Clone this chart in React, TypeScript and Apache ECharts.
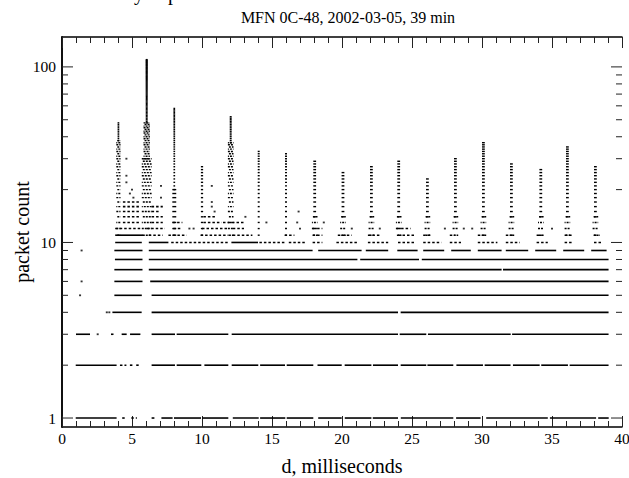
import React, { useEffect, useRef } from "react";
import * as echarts from "echarts";

const TITLE = "MFN 0C-48, 2002-03-05, 39 min";
const X_NAME = "d, milliseconds";
const Y_NAME = "packet count";
const X_MIN = 0;
const X_MAX = 40;
const X_STEP = 5;
const Y_MIN = 0.889;
const Y_MAX = 148;
const yTickValues = [1, 2, 3, 4, 5, 6, 7, 8, 9, 10, 20, 30, 40, 50, 60, 70, 80, 90, 100];

// dense horizontal runs of points: [count, from ms, to ms]
const denseRuns = [
  [1, 0.98, 3.9], [1, 6.4, 6.6], [1, 7.1, 7.9], [1, 8.0, 9.93], [1, 10.02, 11.88], [1, 12.2, 14.05],
  [1, 14.15, 15.95], [1, 16.05, 17.95], [1, 18.3, 19.98], [1, 20.2, 22.1], [1, 22.2, 24.0],
  [1, 24.2, 27.95], [1, 28.15, 29.9], [1, 30.3, 34.7], [1, 34.85, 38.15], [1, 38.3, 39.05],
  [2, 0.98, 3.9], [2, 6.4, 8.07], [2, 8.19, 9.95], [2, 10.17, 11.88], [2, 12.12, 14.02],
  [2, 14.15, 15.93], [2, 16.05, 17.95], [2, 18.25, 19.98], [2, 20.19, 22.1], [2, 22.21, 24.0],
  [2, 24.19, 26.02], [2, 26.1, 27.95], [2, 28.17, 30.07], [2, 30.19, 32.04], [2, 32.21, 34.12],
  [2, 34.23, 36.14], [2, 36.26, 39.04],
  [3, 1.0, 2.0], [3, 4.26, 4.62], [3, 4.86, 5.6], [3, 6.4, 8.07], [3, 8.19, 11.88], [3, 12.12, 24.0],
  [3, 24.12, 26.02], [3, 26.14, 32.05], [3, 32.15, 39.04],
  [4, 3.6, 5.69], [4, 6.4, 24.0], [4, 24.19, 39.04],
  [5, 3.74, 5.7], [5, 6.4, 39.04],
  [6, 3.74, 5.75], [6, 6.3, 39.04],
  [7, 3.74, 5.75], [7, 6.2, 31.4], [7, 31.5, 39.04],
  [8, 3.78, 5.75], [8, 6.2, 21.1], [8, 21.3, 25.5], [8, 25.7, 39.04],
  [9, 3.74, 5.75], [9, 6.2, 17.9], [9, 18.3, 21.4], [9, 21.7, 23.3], [9, 23.95, 25.4], [9, 25.8, 27.3],
  [9, 27.8, 29.2], [9, 29.7, 31.4], [9, 31.7, 33.3], [9, 33.8, 35.3], [9, 35.8, 37.3], [9, 37.8, 38.9],
  [10, 3.8, 5.7], [10, 6.2, 7.6], [10, 12.1, 14.0],
  [11, 3.8, 5.8],
];

// thinly populated runs: [count, from ms, to ms]
const sparseRuns = [
  [1, 4.3, 4.6], [1, 4.95, 5.35],
  [2, 4.14, 4.6], [2, 4.85, 5.1], [2, 5.3, 5.6],
  [3, 3.5, 3.8],
  [10, 7.8, 11.9], [10, 14.1, 15.9], [10, 16.2, 17.4], [10, 17.9, 18.6], [10, 19.6, 21.1],
  [10, 21.85, 23.3], [10, 24.0, 25.2], [10, 25.8, 27.1], [10, 27.7, 28.5], [10, 29.7, 31.1],
  [10, 31.7, 32.7], [10, 33.9, 34.7], [10, 35.9, 36.4], [10, 38.0, 38.6],
  [11, 6.2, 7.2], [11, 7.6, 8.9], [11, 9.9, 11.9], [11, 12.2, 13.6], [11, 15.9, 16.6], [11, 17.9, 18.6],
  [11, 19.7, 20.7], [11, 21.85, 22.8], [11, 24.0, 25.2], [11, 25.8, 26.3], [11, 27.7, 28.1],
  [11, 29.7, 30.3], [11, 31.7, 32.2], [11, 33.9, 34.3], [11, 35.9, 36.4], [11, 38.0, 38.4],
  [12, 3.8, 5.7], [12, 6.05, 7.35], [12, 7.95, 8.45], [12, 10.0, 11.9], [12, 12.2, 13.0],
  [12, 17.9, 18.6], [12, 23.9, 24.9],
  [13, 4.35, 5.6], [13, 6.4, 7.2], [13, 7.9, 8.6], [13, 10.1, 11.4], [13, 11.5, 13.1],
  [14, 4.35, 5.6], [14, 6.4, 7.2], [14, 10.1, 11.0],
  [15, 4.35, 5.6], [15, 6.4, 7.0],
  [16, 4.35, 5.6], [16, 6.4, 7.2],
  [17, 4.35, 5.5],
];

// vertical columns of integer counts: [centre ms, lowest count, highest count, spread ms]
const spikes = [
  [4.03, 11, 38, 0.3], [4.03, 38, 48, 0.12],
  [6.05, 11, 30, 0.7], [6.05, 30, 48, 0.45], [6.05, 48, 110, 0.14],
  [8.02, 11, 20, 0.28], [8.02, 20, 58, 0.12],
  [10.0, 11, 27, 0.16],
  [12.05, 11, 37, 0.4], [12.05, 37, 52, 0.14],
  [14.05, 11, 33, 0.14], [16.0, 11, 32, 0.14],
  [18.05, 11, 14, 0.4], [18.05, 14, 29, 0.2],
  [20.07, 11, 14, 0.4], [20.07, 14, 25, 0.2],
  [22.1, 11, 14, 0.4], [22.1, 14, 27, 0.2],
  [24.05, 11, 14, 0.4], [24.05, 14, 29, 0.2],
  [26.1, 11, 14, 0.4], [26.1, 14, 23, 0.2],
  [28.1, 11, 14, 0.4], [28.1, 14, 30, 0.2],
  [30.1, 11, 14, 0.4], [30.1, 14, 37, 0.2],
  [32.1, 11, 14, 0.4], [32.1, 14, 28, 0.2],
  [34.2, 11, 14, 0.4], [34.2, 14, 26, 0.2],
  [36.1, 11, 14, 0.4], [36.1, 14, 35, 0.2],
  [38.1, 11, 14, 0.4], [38.1, 14, 27, 0.2],
];

// isolated points: [ms, count]
const strays = [
  [1.29, 5], [1.4, 6], [1.4, 9], [2.55, 3], [3.2, 4], [3.38, 4],
  [4.6, 30], [4.6, 24], [4.6, 22], [5.0, 20], [5.1, 18], [4.85, 19],
  [7.07, 21], [7.07, 18], [9.1, 12], [9.4, 12], [10.7, 21], [10.7, 17], [10.7, 16], [10.9, 15],
  [13.1, 14], [14.6, 13], [16.9, 15], [16.8, 13], [17.0, 12], [18.7, 13], [20.7, 12],
  [22.7, 12], [27.35, 12], [28.7, 12], [29.3, 12], [35.0, 12],
];

const FONT = '"Liberation Serif", "Times New Roman", serif';

export default function App() {
  const ref = useRef<HTMLDivElement>(null);
  useEffect(() => {
    if (!ref.current) return;
    const chart = echarts.init(ref.current, null, { renderer: "svg" });
    const isMajor = (v: number) => {
      const l = Math.log10(v);
      return Math.abs(l - Math.round(l)) < 1e-6;
    };
    const xAxisBase = {
      type: "value",
      min: X_MIN,
      max: X_MAX,
      interval: X_STEP,
      axisLine: { lineStyle: { color: "#000", width: 1.5 } },
      axisTick: { inside: true, length: 11, lineStyle: { color: "#222", width: 1 } },
      minorTick: { show: true, splitNumber: 5, length: 6, lineStyle: { color: "#222", width: 1 } },
      splitLine: { show: false },
      minorSplitLine: { show: false },
    };
    const yAxisBase = {
      type: "log",
      logBase: 10,
      min: Y_MIN,
      max: Y_MAX,
      axisLine: { show: true, lineStyle: { color: "#000", width: 1.5 } },
      axisTick: { show: false },
      splitLine: { show: false },
    };
    chart.setOption({
      animation: false,
      backgroundColor: "#fff",
      textStyle: { fontFamily: FONT },
      title: {
        text: TITLE,
        left: 343,
        top: 4,
        textAlign: "center",
        textStyle: { fontFamily: FONT, fontSize: 16, fontWeight: "normal", color: "#000" },
      },
      graphic: [
        { type: "text", x: 134, y: -7, style: { text: "y", font: `20px ${FONT}`, fill: "#000", verticalAlign: "middle" } },
        { type: "text", x: 168, y: -7, style: { text: "p", font: `20px ${FONT}`, fill: "#000", verticalAlign: "middle" } },
      ],
      grid: { left: 62, right: 7, top: 37, bottom: 51, containLabel: false, outerBoundsMode: "none" },
      xAxis: [
        {
          ...xAxisBase,
          position: "bottom",
          name: X_NAME,
          nameLocation: "middle",
          nameGap: 29,
          nameMoveOverlap: false,
          nameTextStyle: { fontFamily: FONT, fontSize: 20, color: "#000" },
          axisLabel: { fontFamily: FONT, fontSize: 15.5, color: "#000", margin: 3 },
        },
        { ...xAxisBase, position: "top", axisLabel: { show: false } },
      ],
      yAxis: [
        {
          ...yAxisBase,
          position: "left",
          name: Y_NAME,
          nameLocation: "middle",
          nameGap: 30,
          nameMoveOverlap: false,
          nameTextStyle: { fontFamily: FONT, fontSize: 20, color: "#000" },
          axisLabel: {
            fontFamily: FONT,
            fontSize: 15.5,
            color: "#000",
            margin: 6,
            showMinLabel: false,
            showMaxLabel: false,
            formatter: (v: number) => (isMajor(v) ? String(Math.round(v)) : ""),
          },
        },
        { ...yAxisBase, position: "right", axisLabel: { show: false } },
      ],
      series: [
        {
          type: "custom",
          name: "yTicks",
          clip: false,
          silent: true,
          data: yTickValues.map((v) => [X_MIN, v]),
          encode: { x: 0, y: 1 },
          renderItem: (params: any, api: any) => {
            const cs = params.coordSys;
            const v = api.value(1);
            const y = api.coord([X_MIN, v])[1];
            const len = isMajor(v) ? 11 : 6;
            const st = { stroke: "#222", lineWidth: 1 };
            return {
              type: "group",
              children: [
                { type: "line", shape: { x1: cs.x, y1: y, x2: cs.x + len, y2: y }, style: st },
                { type: "line", shape: { x1: cs.x + cs.width - len, y1: y, x2: cs.x + cs.width, y2: y }, style: st },
              ],
            };
          },
        },
        {
          type: "custom",
          name: "dense",
          clip: true,
          silent: true,
          data: denseRuns,
          encode: { x: [1, 2], y: 0 },
          renderItem: (params: any, api: any) => {
            const a = api.coord([api.value(1), api.value(0)]);
            const b = api.coord([api.value(2), api.value(0)]);
            return {
              type: "rect",
              shape: { x: a[0], y: a[1] - 0.8, width: Math.max(1.5, b[0] - a[0]), height: 1.6 },
              style: { fill: "#000" },
            };
          },
        },
        {
          type: "custom",
          name: "sparse",
          clip: true,
          silent: true,
          data: sparseRuns,
          encode: { x: [1, 2], y: 0 },
          renderItem: (params: any, api: any) => {
            const a = api.coord([api.value(1), api.value(0)]);
            const b = api.coord([api.value(2), api.value(0)]);
            return {
              type: "line",
              shape: { x1: a[0], y1: a[1], x2: b[0], y2: b[1] },
              style: { stroke: "#000", lineWidth: 1.6, lineDash: [2.5, 2] },
            };
          },
        },
        {
          type: "custom",
          name: "spikes",
          clip: true,
          silent: true,
          data: spikes,
          encode: { x: 0, y: [1, 2] },
          renderItem: (params: any, api: any) => {
            const c = api.value(0);
            const lo = api.value(1);
            const hi = api.value(2);
            const sp = api.value(3);
            const children: any[] = [];
            for (let k = Math.ceil(lo); k <= Math.floor(hi); k++) {
              const a = api.coord([c - sp / 2, k]);
              const b = api.coord([c + sp / 2, k]);
              const w = b[0] - a[0];
              if (w > 4) {
                children.push({
                  type: "line",
                  shape: { x1: a[0], y1: a[1], x2: b[0], y2: a[1] },
                  style: { stroke: "#000", lineWidth: 1.4, lineDash: [2, 1], lineDashOffset: k % 3 },
                });
              } else {
                children.push({
                  type: "rect",
                  shape: { x: a[0], y: a[1] - 0.7, width: Math.max(1.7, w), height: 1.4 },
                  style: { fill: "#000" },
                });
              }
            }
            return { type: "group", children };
          },
        },
        {
          type: "scatter",
          name: "strays",
          silent: true,
          symbol: "rect",
          symbolSize: [2, 1.8],
          itemStyle: { color: "#000" },
          data: strays,
        },
      ],
    });
    return () => chart.dispose();
  }, []);
  return (
    <div
      ref={ref}
      style={{ position: "absolute", left: 0, top: 0, width: 629, height: 478, background: "#fff" }}
    />
  );
}
